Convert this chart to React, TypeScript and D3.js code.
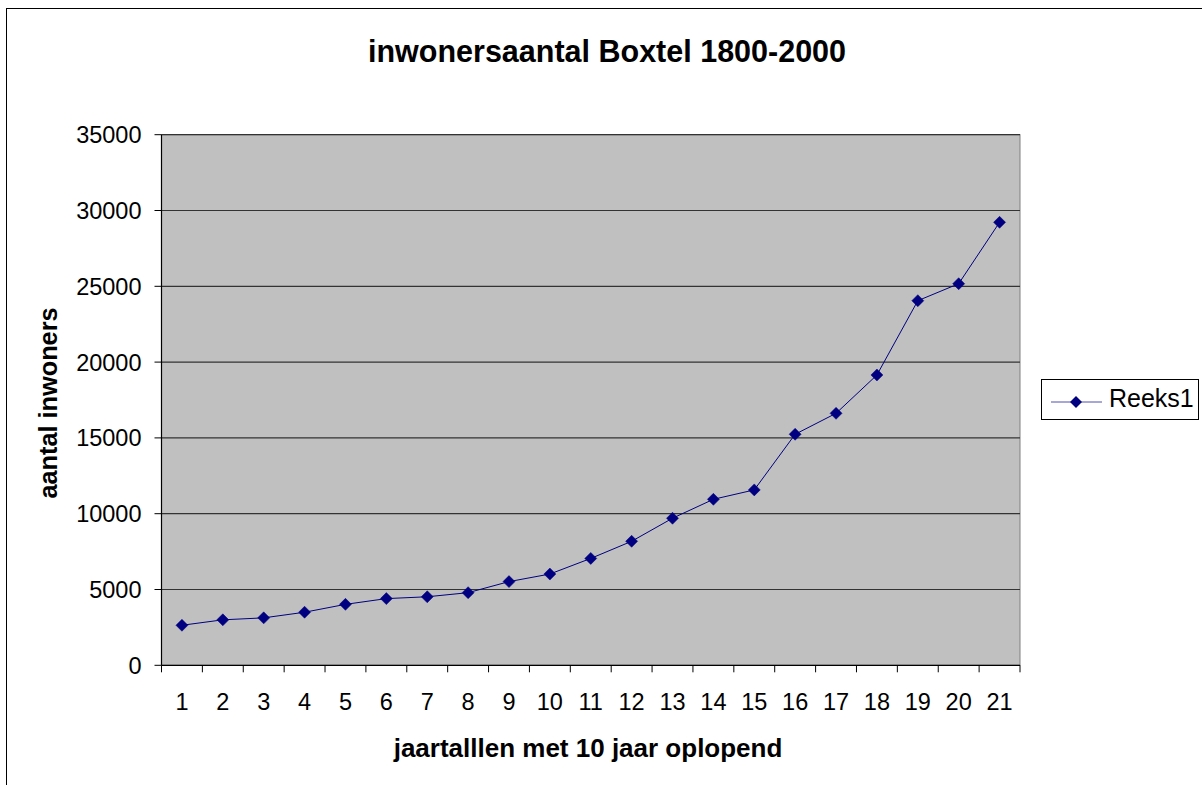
import React from "react";
import * as d3 from "d3";

const categories = ["1","2","3","4","5","6","7","8","9","10","11","12","13","14","15","16","17","18","19","20","21"];
const values = [2640, 3000, 3130, 3500, 4020, 4400, 4520, 4790, 5520, 6020, 7050, 8180, 9700, 10950, 11570, 15240, 16620, 19150, 24050, 25170, 29220];
const yTicks = [0, 5000, 10000, 15000, 20000, 25000, 30000, 35000];
const title = "inwonersaantal Boxtel 1800-2000";
const xTitle = "jaartalllen met 10 jaar oplopend";
const yTitle = "aantal inwoners";
const seriesName = "Reeks1";

export default function App() {
  const W = 1202, H = 785;
  const left = 161.5, right = 1020, top = 134.7, bottom = 665.3;
  const x = d3.scaleBand().domain(categories).range([left, right]);
  const y = d3.scaleLinear().domain([0, 35000]).range([bottom, top]);
  const line = d3.line<number>().x((_, i) => x(categories[i])! + x.bandwidth() / 2).y(d => y(d));
  const diamond = (cx: number, cy: number, r = 6) => `M${cx},${cy - r}L${cx + r},${cy}L${cx},${cy + r}L${cx - r},${cy}Z`;
  const font = "Arial, 'Liberation Sans', sans-serif";
  const navy = "#000080";
  return (
    <svg width={W} height={H} style={{ position: "absolute", left: 0, top: 0, background: "#fff" }} fontFamily={font}>
      <rect x={6.5} y={8.5} width={W + 10} height={H + 10} fill="#fff" stroke="#000" strokeWidth={1} />
      <text x={607} y={62} textAnchor="middle" fontSize={30.5} fontWeight="bold">{title}</text>
      <rect x={left} y={top} width={right - left} height={bottom - top} fill="#C0C0C0" stroke="#808080" strokeWidth={1} />
      {yTicks.filter(t => t > 0).map(t => (
        <line key={t} x1={left} x2={right} y1={y(t)} y2={y(t)} stroke="#333" strokeWidth={1.2} />
      ))}
      {/* y axis */}
      <line x1={left} x2={left} y1={top} y2={bottom} stroke="#000" strokeWidth={1.2} />
      {yTicks.map(t => (
        <g key={t}>
          <line x1={left - 7} x2={left} y1={y(t)} y2={y(t)} stroke="#000" />
          <text x={141.5} y={y(t) + 8.5} textAnchor="end" fontSize={23.5}>{t}</text>
        </g>
      ))}
      {/* x axis */}
      <line x1={left} x2={right} y1={bottom} y2={bottom} stroke="#000" strokeWidth={1.2} />
      {categories.map(c => (
        <line key={"t" + c} x1={x(c)!} x2={x(c)!} y1={bottom} y2={bottom + 7} stroke="#000" />
      ))}
      <line x1={right} x2={right} y1={bottom} y2={bottom + 7} stroke="#000" />
      {categories.map(c => (
        <text key={"l" + c} x={x(c)! + x.bandwidth() / 2} y={709.5} textAnchor="middle" fontSize={23.5}>{c}</text>
      ))}
      <text x={588} y={757} textAnchor="middle" fontSize={26} fontWeight="bold">{xTitle}</text>
      <text transform={`translate(57,403) rotate(-90)`} textAnchor="middle" fontSize={25.3} fontWeight="bold">{yTitle}</text>
      <path d={line(values)!} fill="none" stroke={navy} strokeWidth={1} />
      {values.map((v, i) => (
        <path key={i} d={diamond(x(categories[i])! + x.bandwidth() / 2, y(v))} fill={navy} stroke={navy} strokeWidth={0.5} />
      ))}
      {/* legend */}
      <rect x={1041.5} y={379.5} width={157} height={40} fill="#fff" stroke="#000" strokeWidth={1} />
      <line x1={1051} x2={1102} y1={402} y2={402} stroke="#5050b0" strokeWidth={1} />
      <path d={diamond(1076, 402)} fill={navy} />
      <text x={1109} y={406.7} fontSize={25}>{seriesName}</text>
    </svg>
  );
}
